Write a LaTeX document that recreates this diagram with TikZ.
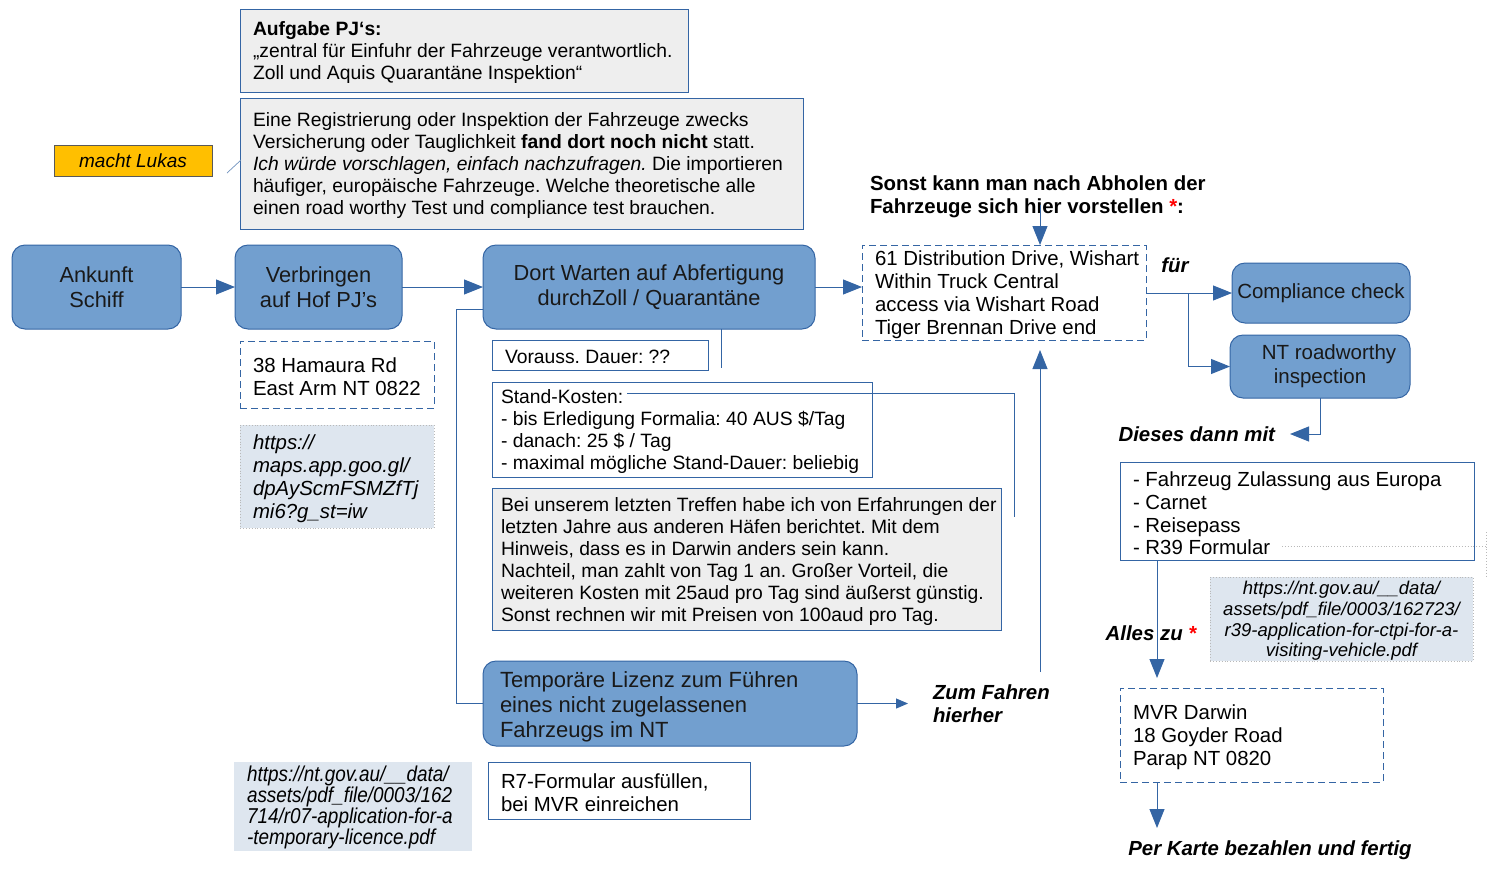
\documentclass[tikz,border=0pt]{standalone}
\usepackage{fontspec}
\setmainfont{Liberation Sans}
\usetikzlibrary{arrows.meta}
\definecolor{lblue}{HTML}{729FCF}
\definecolor{dblue}{HTML}{3465A4}
\definecolor{gfill}{HTML}{EEEEEE}
\definecolor{ufill}{HTML}{DEE6EF}
\definecolor{lorange}{HTML}{FFBF00}
\newcommand\fsz[2]{\fontsize{#1}{#2}\selectfont}
\frenchspacing
\begin{document}
\begin{tikzpicture}[x=1pt,y=-1pt,
 every node/.style={inner sep=0pt, outer sep=0pt},
 flow/.style={draw=dblue, fill=lblue, line width=1pt, rounded corners=13pt, align=center, font=\fsz{21.8}{25}, text=black!90, anchor=north west},
 flowsm/.style={flow, font=\fsz{20.5}{24}},
 gbox/.style={draw=dblue, fill=gfill, line width=0.8pt, anchor=north west},
 wbox/.style={draw=dblue, fill=white, line width=0.8pt, anchor=north west},
 dbox/.style={draw=dblue, dash pattern=on 7pt off 4pt, line width=0.8pt, anchor=north west},
 ubox/.style={draw=gray!55, fill=ufill, dotted, line width=0.9pt, anchor=north west},
 txt/.style={anchor=west, align=left, font=\fsz{19.3}{22}, yshift=-2.3pt},
 dtxt/.style={anchor=west, align=left, font=\fsz{20.4}{22.8}, yshift=-2.3pt},
 lbl/.style={font=\fsz{20.4}{23}\bfseries\itshape, align=left, yshift=-2pt},
 arr/.style={draw=dblue, line width=1pt, -{Triangle[length=19pt,width=15pt]}},
 arrs/.style={draw=dblue, line width=1pt, -{Triangle[length=12pt,width=10pt]}},
 ln/.style={draw=dblue, line width=0.8pt},
]
\useasboundingbox (0,0) rectangle (1488,879);

% ---- top notes
\node[gbox, minimum width=448pt, minimum height=83pt] (aufg) at (240,9) {};
\node[txt] (aufgT) at ([xshift=13pt]aufg.west)
 {\textbf{Aufgabe PJ‘s:}\\„zentral für Einfuhr der Fahrzeuge verantwortlich.\\Zoll und Aquis Quarantäne Inspektion“};
\node[gbox, minimum width=563pt, minimum height=131pt] (reg) at (240,98) {};
\node[txt] (regT) at ([xshift=13pt]reg.west)
 {Eine Registrierung oder Inspektion der Fahrzeuge zwecks\\Versicherung oder Tauglichkeit \textbf{fand dort noch nicht} statt.\\\textit{Ich würde vorschlagen, einfach nachzufragen.} Die importieren\\häufiger, europäische Fahrzeuge. Welche theoretische alle\\einen road worthy Test und compliance test brauchen.};
\node[draw=gray!70!black, fill=lorange, line width=0.8pt, anchor=north west, minimum width=158pt, minimum height=31pt, font=\fsz{19}{22}\itshape] (lukas) at (54,145) {macht Lukas};
\coordinate (lk1) at (227,173);
\coordinate (lk2) at (241,160);
\draw[draw=dblue!70, line width=0.7pt] (lk1) -- (lk2);

% ---- main flow
\node[flow, minimum width=169pt, minimum height=84pt] (ank) at (12,245) {Ankunft\\Schiff};
\node[flow, minimum width=167pt, minimum height=84pt] (verb) at (235,245) {Verbringen\\auf Hof PJ's};
\node[flow, minimum width=332pt, minimum height=84pt] (dort) at (483,245) {Dort Warten auf Abfertigung\\durchZoll / Quarantäne};
\node[dbox, minimum width=284pt, minimum height=95pt] (dist) at (862,245) {};
\node[dtxt] (distT) at ([xshift=13pt]dist.west)
 {61 Distribution Drive, Wishart\\Within Truck Central\\access via Wishart Road\\Tiger Brennan Drive end};
\draw[arr] (ank) -- (verb);
\draw[arr] (verb) -- (dort);
\draw[arr] (dort.east) -- (dort.east -| dist.west);

\node[lbl, font=\fsz{20.4}{23}\bfseries, anchor=west] (sonst) at (870,194.5)
 {Sonst kann man nach Abholen der\\Fahrzeuge sich hier vorstellen \textcolor{red}{*}:};
\coordinate (sA) at (1040,205);
\draw[arr] (sA) -- (sA |- dist.north);

\node[lbl, anchor=center] (fuer) at (1175,263) {für};
\node[flowsm, minimum width=178pt, minimum height=60pt] (comp) at (1232,263) {Compliance check};
\node[flowsm, minimum width=180pt, minimum height=63pt] (nt) at (1230,335) {\hspace*{18pt}NT roadworthy\\inspection};
\coordinate (br) at (1188,293);
\draw[arr] (dist.east |- br) -- (comp.west |- br);
\draw[arr] (br) |- (nt.west);

\node[lbl, anchor=east] (dies) at (1275,432) {Dieses dann mit};
\draw[arr] (nt.south) |- ([xshift=15pt]dies.east);

\node[wbox, minimum width=354pt, minimum height=98pt] (docs) at (1120,462) {};
\node[dtxt] (docsT) at ([xshift=13pt]docs.west)
 {- Fahrzeug Zulassung aus Europa\\- Carnet\\- Reisepass\\- R39 Formular};
\coordinate (dt1) at (1282,546);
\coordinate (dt2) at (1486,546);
\coordinate (dt3) at (1486,532);
\coordinate (dt4) at (1486,576);
\draw[gray!55, dotted, line width=0.9pt] (dt1) -- (dt2);
\draw[gray!55, dotted, line width=0.9pt] (dt3) -- (dt4);

\node[ubox, minimum width=263pt, minimum height=84pt] (r39) at (1210,577) {};
\node[align=center, font=\fsz{18.5}{20.7}\itshape, yshift=-2pt] (r39T) at (r39.center)
 {https://nt.gov.au/\_\_data/\\assets/pdf\_file/0003/162723/\\r39-application-for-ctpi-for-a-\\visiting-vehicle.pdf};

\node[dbox, minimum width=263pt, minimum height=94pt] (mvr) at (1120,688) {};
\node[dtxt] (mvrT) at ([xshift=13pt]mvr.west) {MVR Darwin\\18 Goyder Road\\Parap NT 0820};
\coordinate (d1) at (1157,560);
\coordinate (d2) at (1157,678);
\draw[arr] (d1) -- (d2);
\node[lbl, anchor=center] (alles) at (1151,631) {Alles zu \textcolor{red}{*}};
\coordinate (m1) at (1157,782);
\coordinate (m2) at (1157,828);
\draw[arr] (m1) -- (m2);
\node[lbl, anchor=center] (karte) at (1270,848) {Per Karte bezahlen und fertig};

% ---- left column details
\node[dbox, minimum width=194pt, minimum height=67pt] (hama) at (240,341) {};
\node[dtxt] (hamaT) at ([xshift=13pt]hama.west) {38 Hamaura Rd\\East Arm NT 0822};
\node[ubox, minimum width=194pt, minimum height=103pt] (maps) at (240,425) {};
\node[dtxt, font=\fsz{20.4}{23}\itshape] (mapsT) at ([xshift=13pt]maps.west)
 {https://\\maps.app.goo.gl/\\dpAyScmFSMZfTj\\mi6?g\_st=iw};

% ---- middle details
\node[wbox, minimum width=216pt, minimum height=30pt] (vor) at (492,340) {};
\node[txt] (vorT) at ([xshift=13pt]vor.west) {Vorauss. Dauer: ??};
\coordinate (v1) at (721,329);
\coordinate (v2) at (721,368);
\draw[ln] (v1) -- (v2);

\node[wbox, minimum width=380pt, minimum height=95pt] (stand) at (492,382) {};
\node[txt] (standT) at ([xshift=9pt]stand.west)
 {Stand-Kosten:\\- bis Erledigung Formalia: 40 AUS \$/Tag\\- danach: 25 \$ / Tag\\- maximal mögliche Stand-Dauer: beliebig};
\coordinate (s1) at (627,393);
\coordinate (s2) at (1014,393);
\coordinate (s3) at (1014,517);
\draw[ln] (s1) -- (s2) -- (s3);

\node[gbox, minimum width=509pt, minimum height=142pt] (note) at (492,488) {};
\node[txt] (noteT) at ([xshift=9pt]note.west)
 {Bei unserem letzten Treffen habe ich von Erfahrungen der\\letzten Jahre aus anderen Häfen berichtet. Mit dem\\Hinweis, dass es in Darwin anders sein kann.\\Nachteil, man zahlt von Tag 1 an. Großer Vorteil, die\\weiteren Kosten mit 25aud pro Tag sind äußerst günstig.\\Sonst rechnen wir mit Preisen von 100aud pro Tag.};

\node[flow, minimum width=374pt, minimum height=85pt] (temp) at (483,661) {};
\node[anchor=west, align=left, font=\fsz{22}{25}, text=black!90, yshift=-3pt] (tempT) at ([xshift=17pt]temp.west)
 {Temporäre Lizenz zum Führen\\eines nicht zugelassenen\\Fahrzeugs im NT};
\draw[ln] (dort.west) ++(0,22) -- ++(-27,0) |- (temp.west);

\node[lbl, anchor=west] (zum) at (933,701.5) {Zum Fahren\\hierher};
\coordinate (z1) at (908,703.5);
\draw[arrs] (temp.east) -- (z1);
\coordinate (u1) at (1040,672);
\coordinate (u2) at (1040,350);
\draw[arr] (u1) -- (u2);

\node[fill=ufill, anchor=north west, minimum width=238pt, minimum height=89pt] (r07) at (234,762) {};
\node[anchor=west, align=left, font=\fsz{21.5}{18}\itshape\addfontfeature{FakeStretch=0.88}, yshift=-1pt] (r07T) at ([xshift=13pt]r07.west)
 {https://nt.gov.au/\_\_data/\\assets/pdf\_file/0003/162\\714/r07-application-for-a\\-temporary-licence.pdf};
\node[wbox, minimum width=262pt, minimum height=57pt] (r7) at (488,762) {};
\node[dtxt] (r7T) at ([xshift=13pt]r7.west) {R7-Formular ausfüllen,\\bei MVR einreichen};
\end{tikzpicture}
\end{document}
